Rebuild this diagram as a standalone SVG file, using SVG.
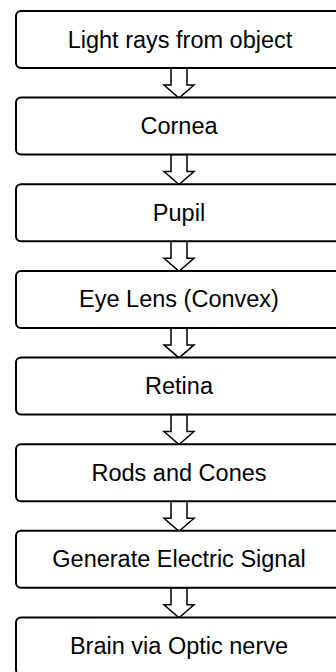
<svg xmlns="http://www.w3.org/2000/svg" width="336" height="672" viewBox="0 0 336 672">
  <style>
    .box { fill: #ffffff; stroke: #000000; stroke-width: 2; }
    .lbl { font-family: "Liberation Sans", Arial, sans-serif; font-size: 23.5px; fill: #000000; text-anchor: middle; }
    .arr { fill: #ffffff; stroke: #000000; stroke-width: 1.5; stroke-linejoin: miter; }
  </style>
  <defs>
    <!-- hollow block arrow pointing down, origin at top centre -->
    <path id="down" d="M -8 0 H 8 V 17 H 15 L 0 30 L -15 17 H -8 Z"/>
  </defs>
  <rect x="0" y="0" width="336" height="672" fill="#ffffff"/>

  <g id="connectors">
    <use href="#down" class="arr" x="179" y="68"/>
    <use href="#down" class="arr" x="179" y="154.6"/>
    <use href="#down" class="arr" x="179" y="241.3"/>
    <use href="#down" class="arr" x="179" y="327.9"/>
    <use href="#down" class="arr" x="179" y="414.6"/>
    <use href="#down" class="arr" x="179" y="501.2"/>
    <use href="#down" class="arr" x="179" y="587.8"/>
  </g>

  <g id="light">
    <rect class="box" x="16" y="11" width="326" height="57" rx="5"/>
    <text class="lbl" x="180" y="47.5">Light rays from object</text>
  </g>
  <g id="cornea">
    <rect class="box" x="16" y="97.6" width="326" height="57" rx="5"/>
    <text class="lbl" x="179" y="134.1">Cornea</text>
  </g>
  <g id="pupil">
    <rect class="box" x="16" y="184.3" width="326" height="57" rx="5"/>
    <text class="lbl" x="179" y="220.8">Pupil</text>
  </g>
  <g id="lens">
    <rect class="box" x="16" y="270.9" width="326" height="57" rx="5"/>
    <text class="lbl" x="179" y="307.4">Eye Lens (Convex)</text>
  </g>
  <g id="retina">
    <rect class="box" x="16" y="357.6" width="326" height="57" rx="5"/>
    <text class="lbl" x="179" y="394.1">Retina</text>
  </g>
  <g id="rods">
    <rect class="box" x="16" y="444.2" width="326" height="57" rx="5"/>
    <text class="lbl" x="179" y="480.7">Rods and Cones</text>
  </g>
  <g id="signal">
    <rect class="box" x="16" y="530.8" width="326" height="57" rx="5"/>
    <text class="lbl" x="179" y="567.3">Generate Electric Signal</text>
  </g>
  <g id="brain">
    <rect class="box" x="16" y="617.5" width="326" height="57" rx="5"/>
    <text class="lbl" x="179" y="654">Brain via Optic nerve</text>
  </g>
</svg>
